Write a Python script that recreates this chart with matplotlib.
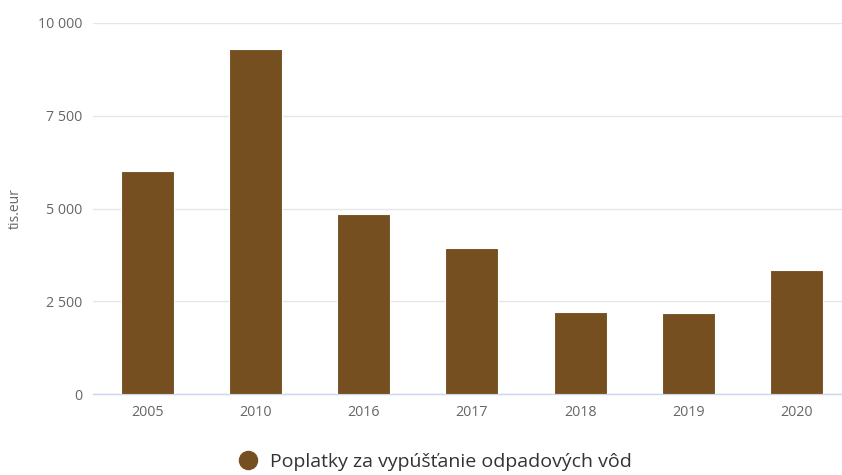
import matplotlib
matplotlib.use("Agg")
import matplotlib.pyplot as plt
from matplotlib.ticker import FuncFormatter

plt.rcParams['font.family'] = ['Open Sans', 'DejaVu Sans']

#Data
years = ["2005", "2010", "2016", "2017", "2018", "2019", "2020"]
values = [6000, 9300, 4850, 3940, 2220, 2190, 3340]
series_name = "Poplatky za vypúšťanie odpadových vôd"
y_ticks = [0, 2500, 5000, 7500, 10000]

bar_color = "#754f1f"

fig = plt.figure(figsize=(8.42, 4.75), dpi=100)
W, H = 842, 475
ax = fig.add_axes([93 / W, (H - 394) / H, (842 - 93) / W, (394 - 23) / H])

x = list(range(len(years)))
ax.bar(x, values, width=0.49, color=bar_color, edgecolor="white", linewidth=0.8, zorder=3)

ax.set_ylim(0, 10000)
ax.set_xlim(-0.5, 6.42)
ax.set_yticks(y_ticks)
ax.yaxis.set_major_formatter(FuncFormatter(lambda v, p: f"{int(v):,}".replace(",", " ")))
ax.set_xticks(x)
ax.set_xticklabels(years)

ax.grid(axis="y", color="#e6e6e6", linewidth=1, zorder=0)
for s in ["top", "right", "left"]:
    ax.spines[s].set_visible(False)
ax.spines["bottom"].set_color("#ccd6eb")
ax.spines["bottom"].set_linewidth(1)
ax.tick_params(axis="y", length=0, pad=8, labelsize=10.3, labelcolor="#666666")
ax.tick_params(axis="x", length=0, pad=8, labelsize=10.3, labelcolor="#666666")
ax.set_ylabel("tis.eur", color="#666666", fontsize=10)
ax.yaxis.set_label_coords((23 - 93) / 749, 0.5)

# legend at bottom
fig.legend(handles=[plt.Line2D([], [], marker="o", linestyle="", markersize=13,
                               color=bar_color)],
           labels=[series_name], loc="center", bbox_to_anchor=(434 / W, (H - 462) / H),
           frameon=False, fontsize=14, handletextpad=0.55, handlelength=1.2,
           labelcolor="#333333")

fig.savefig("out.png", dpi=100)
